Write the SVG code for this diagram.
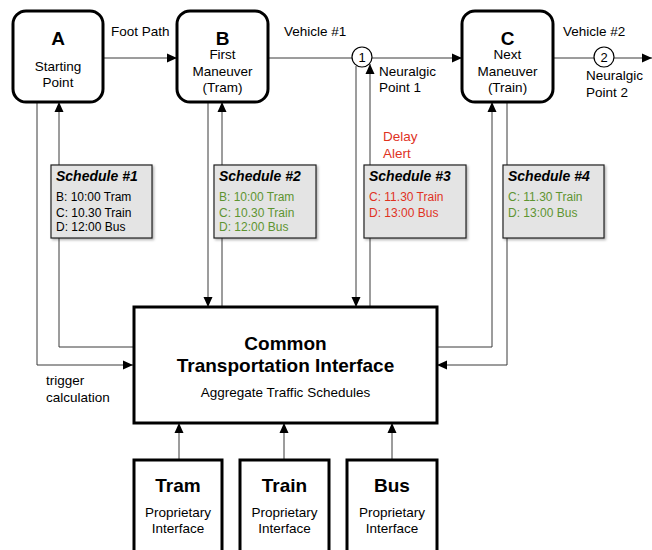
<svg xmlns="http://www.w3.org/2000/svg" width="652" height="550" viewBox="0 0 652 550">
<defs>
<marker id="ah" viewBox="0 0 10 10" refX="10" refY="5" markerWidth="10" markerHeight="10" markerUnits="userSpaceOnUse" orient="auto">
<path d="M0,0.5 L10,5 L0,9.5 Z" fill="#000"/>
</marker>
<filter id="sh" x="-10%" y="-10%" width="130%" height="130%">
<feDropShadow dx="1.5" dy="1.5" stdDeviation="1" flood-color="#000" flood-opacity="0.3"/>
</filter>
</defs>
<style>
text{font-family:"Liberation Sans",Arial,sans-serif;fill:#000}
.node{fill:#fff;stroke:#000;stroke-width:3}
.sched{fill:#e4e4e4;stroke:#222;stroke-width:1.2}
.c{stroke:#3a3a3a;stroke-width:1;fill:none}
.arr{marker-end:url(#ah)}
.big{font-size:19px;font-weight:bold;text-anchor:middle}
.sub{font-size:13.5px;text-anchor:middle}
.lbl{font-size:13.5px}
.st{font-size:14px;font-weight:bold;font-style:italic}
.sl{font-size:12px}
.green{fill:#5e9431}
.red{fill:#e0321f}
.circ{fill:#fff;stroke:#000;stroke-width:1.2}
.num{font-size:13px;text-anchor:middle}
</style>

<g id="connectors">
<path class="c arr" d="M103,58 H177"/>
<path class="c" d="M268,58 H352"/>
<path class="c arr" d="M372,58 H462"/>
<path class="c" d="M553,58 H594"/>
<path class="c arr" d="M614,58 H652"/>
<path class="c arr" d="M37,102 V365 H133"/>
<path class="c arr" d="M133,347 H59 V102"/>
<path class="c arr" d="M208,102 V307"/>
<path class="c arr" d="M222,307 V102"/>
<path class="c arr" d="M356,66 V307"/>
<path class="c arr" d="M370,307 V64"/>
<path class="c arr" d="M437,347 H492 V102"/>
<path class="c arr" d="M507,102 V365 H437"/>
<path class="c arr" d="M179,460 V423"/>
<path class="c arr" d="M284,460 V423"/>
<path class="c arr" d="M392,460 V423"/>
</g>

<g id="A">
<rect class="node" x="13" y="11" width="90" height="91" rx="13"/>
<text class="big" x="58" y="45">A</text>
<text class="sub" x="58" y="71">Starting</text>
<text class="sub" x="58" y="87">Point</text>
</g>
<g id="B">
<rect class="node" x="177" y="11" width="91" height="91" rx="13"/>
<text class="big" x="222.5" y="45">B</text>
<text class="sub" x="222.5" y="59">First</text>
<text class="sub" x="222.5" y="76">Maneuver</text>
<text class="sub" x="222.5" y="92">(Tram)</text>
</g>
<g id="C">
<rect class="node" x="462" y="11" width="91" height="91" rx="13"/>
<text class="big" x="507.5" y="45">C</text>
<text class="sub" x="507.5" y="59">Next</text>
<text class="sub" x="507.5" y="76">Maneuver</text>
<text class="sub" x="507.5" y="92">(Train)</text>
</g>

<g id="labels">
<text class="lbl" x="111" y="36">Foot Path</text>
<text class="lbl" x="284" y="36">Vehicle #1</text>
<text class="lbl" x="563" y="36">Vehicle #2</text>
<text class="lbl" x="379" y="76">Neuralgic</text>
<text class="lbl" x="379" y="92">Point 1</text>
<text class="lbl" x="586" y="80">Neuralgic</text>
<text class="lbl" x="586" y="97">Point 2</text>
<text class="lbl red" x="383" y="141">Delay</text>
<text class="lbl red" x="383" y="158">Alert</text>
<text class="lbl" x="46" y="385">trigger</text>
<text class="lbl" x="46" y="402">calculation</text>
</g>

<g id="np1">
<circle class="circ" cx="362" cy="57" r="10"/>
<text class="num" x="362" y="61.5">1</text>
</g>
<g id="np2">
<circle class="circ" cx="604" cy="57" r="10"/>
<text class="num" x="604" y="61.5">2</text>
</g>

<g id="sched1">
<rect class="sched" x="51" y="165" width="101" height="73" filter="url(#sh)"/>
<text class="st" x="56" y="181">Schedule #1</text>
<text class="sl" x="56" y="201">B: 10:00 Tram</text>
<text class="sl" x="56" y="217">C: 10.30 Train</text>
<text class="sl" x="56" y="231">D: 12:00 Bus</text>
</g>
<g id="sched2">
<rect class="sched" x="214" y="165" width="102" height="73" filter="url(#sh)"/>
<text class="st" x="219" y="181">Schedule #2</text>
<text class="sl green" x="219" y="201">B: 10:00 Tram</text>
<text class="sl green" x="219" y="217">C: 10.30 Train</text>
<text class="sl green" x="219" y="231">D: 12:00 Bus</text>
</g>
<g id="sched3">
<rect class="sched" x="364" y="165" width="102" height="73" filter="url(#sh)"/>
<text class="st" x="369" y="181">Schedule #3</text>
<text class="sl red" x="369" y="201">C: 11.30 Train</text>
<text class="sl red" x="369" y="217">D: 13:00 Bus</text>
</g>
<g id="sched4">
<rect class="sched" x="503" y="165" width="101" height="73" filter="url(#sh)"/>
<text class="st" x="508" y="181">Schedule #4</text>
<text class="sl green" x="508" y="201">C: 11.30 Train</text>
<text class="sl green" x="508" y="217">D: 13:00 Bus</text>
</g>

<g id="CTI">
<rect class="node" x="134" y="307" width="303" height="116"/>
<text class="big" x="285.5" y="350">Common</text>
<text class="big" x="285.5" y="372">Transportation Interface</text>
<text class="sub" x="285.5" y="397">Aggregate Traffic Schedules</text>
</g>

<g id="Tram">
<rect class="node" x="134" y="460" width="88" height="100"/>
<text class="big" x="178" y="492">Tram</text>
<text class="sub" x="178" y="517">Proprietary</text>
<text class="sub" x="178" y="533">Interface</text>
</g>
<g id="Train">
<rect class="node" x="240" y="460" width="89" height="100"/>
<text class="big" x="284.5" y="492">Train</text>
<text class="sub" x="284.5" y="517">Proprietary</text>
<text class="sub" x="284.5" y="533">Interface</text>
</g>
<g id="Bus">
<rect class="node" x="347" y="460" width="90" height="100"/>
<text class="big" x="392" y="492">Bus</text>
<text class="sub" x="392" y="517">Proprietary</text>
<text class="sub" x="392" y="533">Interface</text>
</g>
</svg>
